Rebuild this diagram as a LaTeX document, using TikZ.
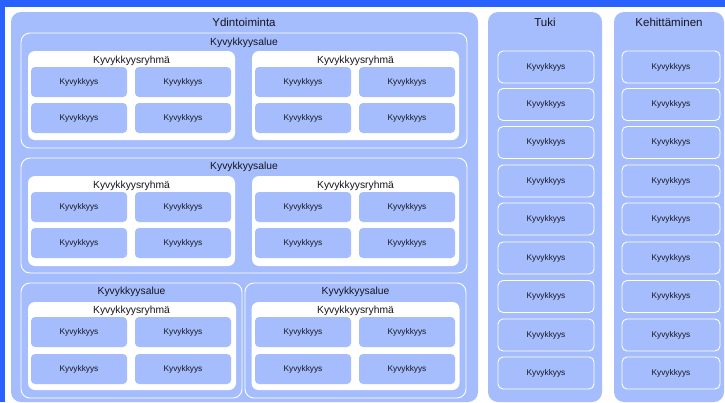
\documentclass[tikz,border=0pt]{standalone}
\usepackage{fontspec}
\setmainfont{Liberation Sans}
\definecolor{pan}{RGB}{165,189,252}
\definecolor{topblue}{RGB}{42,98,255}
\definecolor{txt}{RGB}{20,20,30}
\begin{document}
\begin{tikzpicture}[x=1pt,y=-1pt,
  panel/.style={fill=pan,draw=none,rounded corners=10pt,inner sep=0pt},
  areabox/.style={draw=white,line width=0.9pt,fill=none,rounded corners=9pt,inner sep=0pt},
  grpbox/.style={fill=white,draw=none,rounded corners=7pt,inner sep=0pt},
  kbox/.style={fill=pan,draw=none,rounded corners=4pt,inner sep=0pt,minimum width=96pt,minimum height=30pt,
    font=\fontsize{8.3}{10}\selectfont,text=txt},
  sbox/.style={fill=pan,draw=white,line width=0.9pt,rounded corners=5pt,inner sep=0pt,minimum height=32pt,
    font=\fontsize{8.3}{10}\selectfont,text=txt},
  ttl/.style={font=\fontsize{11.5}{13}\selectfont,text=txt,inner sep=0pt},
  sttl/.style={font=\fontsize{10.3}{12}\selectfont,text=txt,inner sep=0pt}]
\useasboundingbox (0,0) rectangle (725,402);
\fill[white] (0,0) rectangle (725,402);
\fill[topblue] (0,0) rectangle (725,7);
\fill[topblue] (0,0) rectangle (4.5,402);
% panels
\node[panel,minimum width=467pt,minimum height=390pt] (yd) at (244.5,207) {};
\node[panel,minimum width=114pt,minimum height=390pt] (tuki) at (545,207) {};
\node[panel,minimum width=110pt,minimum height=390pt] (keh) at (669,207) {};
\node[ttl] (ydt) at (244,22) {Ydintoiminta};
\node[ttl] (tukit) at (545,22) {Tuki};
\node[ttl] (keht) at (669,22) {Kehittäminen};
% areas
\node[areabox,minimum width=446pt,minimum height=115pt] (a1) at (244,90.5) {};
\node[areabox,minimum width=446pt,minimum height=115pt] (a2) at (244,215.5) {};
\node[areabox,minimum width=221pt,minimum height=115pt] (a3) at (131.5,340.5) {};
\node[areabox,minimum width=221pt,minimum height=115pt] (a4) at (355.5,340.5) {};
\node[sttl] (a1t) at (244,43) {Kyvykkyysalue};
\node[sttl] (a2t) at (244,167) {Kyvykkyysalue};
\node[sttl] (a3t) at (131.5,292) {Kyvykkyysalue};
\node[sttl] (a4t) at (355.5,292) {Kyvykkyysalue};
% groups
\node[grpbox,minimum width=207pt,minimum height=89pt] (g1) at (131.5,95.5) {};
\node[grpbox,minimum width=207pt,minimum height=89pt] (g2) at (355.5,95.5) {};
\node[grpbox,minimum width=207pt,minimum height=90pt] (g3) at (131.5,221) {};
\node[grpbox,minimum width=207pt,minimum height=90pt] (g4) at (355.5,221) {};
\node[grpbox,minimum width=208pt,minimum height=88pt] (g5) at (132,346) {};
\node[grpbox,minimum width=208pt,minimum height=88pt] (g6) at (355.5,346) {};
\node[sttl] (g1t) at (131.5,61) {Kyvykkyysryhmä};
\node[sttl] (g2t) at (355.5,61) {Kyvykkyysryhmä};
\node[sttl] (g3t) at (131.5,186) {Kyvykkyysryhmä};
\node[sttl] (g4t) at (355.5,186) {Kyvykkyysryhmä};
\node[sttl] (g5t) at (131.5,311) {Kyvykkyysryhmä};
\node[sttl] (g6t) at (355.5,311) {Kyvykkyysryhmä};
% capability boxes in core
\foreach \r/\ya/\yb in {1/82/118,2/207/243,3/332/369}{
  \foreach \c/\xx in {1/79,2/183,3/303,4/407}{
    \node[kbox] (k-\r-\c-1) at (\xx,\ya) {Kyvykkyys};
    \node[kbox] (k-\r-\c-2) at (\xx,\yb) {Kyvykkyys};
  }
}
% support and development
\foreach \i/\yy in {1/67,2/104.5,3/142.5,4/181,5/219,6/258,7/296.5,8/335,9/373}{
  \node[sbox,minimum width=96pt] (t-\i) at (546,\yy) {Kyvykkyys};
  \node[sbox,minimum width=98pt] (d-\i) at (671,\yy) {Kyvykkyys};
}
\end{tikzpicture}
\end{document}
